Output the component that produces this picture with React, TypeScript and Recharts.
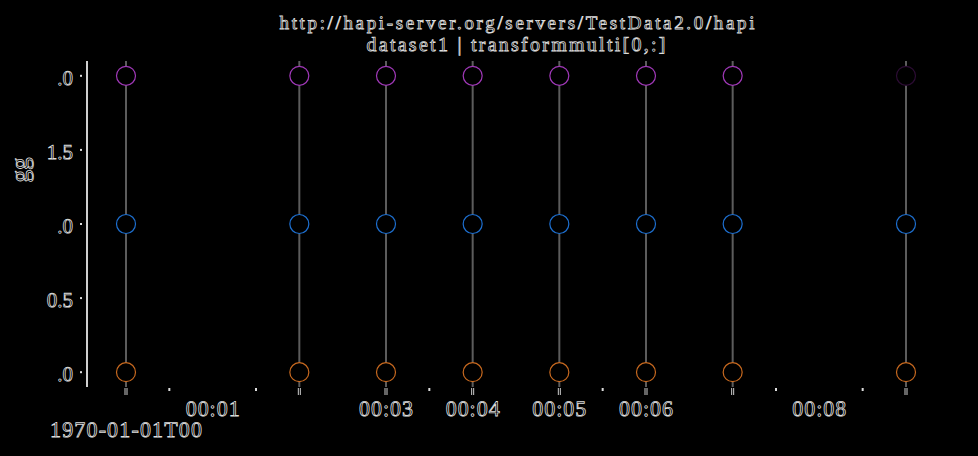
import { ComposedChart, Scatter, XAxis, YAxis, ReferenceLine, Cell } from 'recharts'

// minutes since 1970-01-01T00:00
const times = [0, 2, 3, 4, 5, 6, 7, 9]
const ch0 = [0, 0, 0, 0, 0, 0, 0, 0]
const ch1 = [1, 1, 1, 1, 1, 1, 1, 1]
const ch2 = [2, 2, 2, 2, 2, 2, 2, 2]

const labelledTicks = [1, 3, 4, 5, 6, 8]
const halfTicks = [0.5, 1.5, 3.5, 5.5, 7.5, 8.5]
const xTicks = [...times, ...labelledTicks, ...halfTicks].filter((v, i, a) => a.indexOf(v) === i).sort((a, b) => a - b)
const yTicks = [0, 0.5, 1, 1.5, 2]
const yTickLabels = ['.0', '0.5', '.0', '1.5', '.0']

const title = 'http://hapi-server.org/servers/TestData2.0/hapi'
const subtitle = 'dataset1 | transformmulti[0,:]'
const yLabel = 'gg'
const dateLabel = '1970-01-01T00'

const toRows = (vals: number[]) => times.map((t, i) => ({ t, v: vals[i] }))
const rows0 = toRows(ch0)
const rows1 = toRows(ch1)
const rows2 = toRows(ch2)

const FONT = "'Liberation Serif', 'Times New Roman', serif"
const txt = {
  fontFamily: FONT,
  fill: '#000',
  stroke: '#dedede',
  strokeWidth: 0.8,
  textRendering: 'geometricPrecision' as const,
}

const fmt = (v: number) => '00:0' + v

function XTick(props: any) {
  const { x, y, payload } = props
  const v = payload.value
  return (
    <g>
      {times.includes(v) && (
        <g>
          <line x1={x - 1} x2={x - 1} y1={y + 1} y2={y + 8} stroke="#ccc" />
          <line x1={x + 1} x2={x + 1} y1={y + 1} y2={y + 8} stroke="#ccc" />
        </g>
      )}
      {halfTicks.includes(v) && <rect x={x - 1} y={y + 1} width={2} height={3} fill="#ddd" />}
      {labelledTicks.includes(v) && (
        <text x={x} y={y + 29} textAnchor="middle" fontFamily={FONT} fontSize={22} textLength={54} lengthAdjust="spacing" style={txt}>
          {fmt(v)}
        </text>
      )}
      {v === 0 && (
        <text x={x} y={y + 50} textAnchor="middle" fontFamily={FONT} fontSize={22} textLength={152} lengthAdjust="spacing" style={txt}>
          {dateLabel}
        </text>
      )}
    </g>
  )
}

function YTick(props: any) {
  const { x, y, payload } = props
  const i = yTicks.indexOf(payload.value)
  return (
    <g>
      <rect x={x - 7} y={y - 1} width={2} height={2} fill="#ddd" />
      <text x={x - 14} y={y + 9} textAnchor="end" fontFamily={FONT} fontSize={21} style={txt}>
        {yTickLabels[i]}
      </text>
    </g>
  )
}

const ring = (p: any) => (
  <circle cx={p.cx} cy={p.cy} r={9.5} fill="#000" stroke={p.fill} strokeWidth={1.2} />
)

export default function App() {
  return (
    <div style={{ position: 'fixed', left: 0, top: 0, width: 978, height: 456, background: '#000' }}>
      <ComposedChart width={978} height={456} margin={{ top: 61, right: 33, bottom: 0, left: 0 }}>
        <XAxis
          dataKey="t"
          type="number"
          domain={[-0.45, 9.45]}
          ticks={xTicks}
          interval={0}
          height={69}
          axisLine={false}
          tickLine={false}
          tickSize={0}
          tickMargin={0}
          tick={<XTick />}
        />
        <YAxis
          yAxisId="l"
          dataKey="v"
          type="number"
          domain={[-0.1, 2.1]}
          ticks={yTicks}
          interval={0}
          width={87}
          axisLine={{ stroke: '#cfcfcf', strokeWidth: 2 }}
          tickLine={false}
          tickSize={0}
          tickMargin={0}
          tick={<YTick />}
        />
        <YAxis
          yAxisId="r"
          orientation="right"
          width={0}
          domain={[-0.1, 2.1]}
          tick={false}
          tickLine={false}
          axisLine={{ stroke: '#e8e8e8', strokeWidth: 2 }}
        />
        {times.map((t) => (
          <ReferenceLine key={t} yAxisId="l" x={t} stroke="#5c5c5c" strokeWidth={2} />
        ))}
        <Scatter yAxisId="l" data={rows0} fill="#c8691f" shape={ring} isAnimationActive={false} />
        <Scatter yAxisId="l" data={rows1} fill="#1d6fd0" shape={ring} isAnimationActive={false} />
        <Scatter yAxisId="l" data={rows2} fill="#a038b8" shape={ring} isAnimationActive={false}>
          {rows2.map((r, i) => (
            <Cell key={r.t} fill={i === rows2.length - 1 ? '#2c0c34' : '#a038b8'} />
          ))}
        </Scatter>
      </ComposedChart>
      <svg width={978} height={456} style={{ position: 'absolute', left: 0, top: 0, pointerEvents: 'none' }}>
        <text x={517} y={29} textAnchor="middle" fontFamily={FONT} fontSize={19} textLength={475} lengthAdjust="spacing" style={txt}>
          {title}
        </text>
        <text x={516} y={51} textAnchor="middle" fontFamily={FONT} fontSize={20} textLength={299} lengthAdjust="spacing" style={txt}>
          {subtitle}
        </text>
        <text x={28} y={170} textAnchor="middle" fontFamily={FONT} fontSize={25} transform="rotate(-90 28 170)" style={txt}>
          {yLabel}
        </text>
      </svg>
    </div>
  )
}
